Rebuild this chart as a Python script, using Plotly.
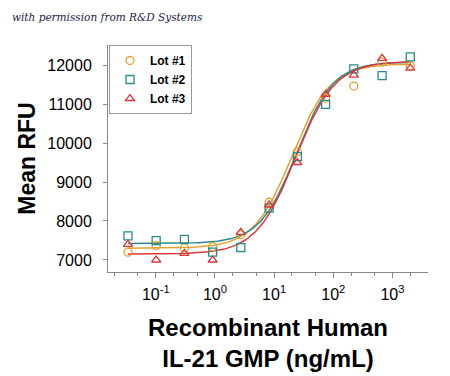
import numpy as np
import plotly.graph_objects as go

conc = [0.0339, 0.1016, 0.305, 0.914, 2.74, 8.23, 24.7, 74.1, 222, 667, 2000]
lot1 = [7200, 7370, 7310, 7340, 7650, 8480, 9780, 11150, 11460, 12080, 11980]
lot2 = [7620, 7495, 7530, 7200, 7320, 8330, 9650, 10990, 11900, 11730, 12210]
lot3 = [7400, 7000, 7170, 7000, 7710, 8410, 9500, 11250, 11740, 12170, 11920]
names = ["Lot #1", "Lot #2", "Lot #3"]
# 4PL fit parameters (bottom, top, EC50, hill)
fit_params = [(7300, 12030, 20, 1.35), (7420, 12080, 24, 1.4), (7150, 12100, 23, 1.3)]
colors = ["#E5A033", "#2B8A8A", "#D63A3A"]
symbols = ["circle-open", "square-open", "triangle-up-open"]
xtick_vals = [0.1, 1, 10, 100, 1000]
xtick_text = ["10<sup>-1</sup>", "10<sup>0</sup>", "10<sup>1</sup>", "10<sup>2</sup>", "10<sup>3</sup>"]
ytick_vals = [7000, 8000, 9000, 10000, 11000, 12000]
ytick_text = ["7000", "8000", "9000", "10000", "11000", "12000"]

fig = go.Figure()
xs = np.logspace(np.log10(conc[0]), np.log10(conc[-1]), 200)
for (b, t, ec, h), c in zip(fit_params, colors):
    ys = b + (t - b) / (1 + (ec / xs) ** h)
    fig.add_trace(go.Scatter(x=xs, y=ys, mode="lines", line=dict(color=c, width=1.5),
                             showlegend=False, hoverinfo="skip"))
for ys, n, c, s in zip([lot1, lot2, lot3], names, colors, symbols):
    fig.add_trace(go.Scatter(x=conc, y=ys, mode="markers", name=n,
                             marker=dict(symbol=s, size=8, color=c, line=dict(width=1.3, color=c))))

fig.update_layout(
    width=450, height=376,
    margin=dict(l=108, r=22, t=45, b=104),
    paper_bgcolor="white", plot_bgcolor="white",
    font=dict(family="Liberation Sans, Arial, sans-serif", color="black"),
    legend=dict(x=0.003, y=1.0, xanchor="left", yanchor="top",
                bordercolor="#999999", borderwidth=1, bgcolor="white",
                font=dict(size=12, color="black", family="Liberation Sans, Arial, sans-serif", weight="bold"),
                tracegroupgap=0, itemwidth=30),
    showlegend=True,
)
fig.update_xaxes(type="log", range=[-1.807, 3.6], tickvals=xtick_vals, ticktext=xtick_text,
                 automargin=False,
                 showgrid=False, zeroline=False, showline=True, linecolor="#888888", linewidth=1,
                 ticks="outside", ticklen=5, tickcolor="#888888", tickfont=dict(size=16),
                 ticklabelstandoff=3,
                 minor=dict(ticks="outside", ticklen=3, tickcolor="#888888", showgrid=False),
                 title=dict(text="<b>Recombinant Human<br>IL-21 GMP (ng/mL)</b>", font=dict(size=24), standoff=16))
fig.update_yaxes(range=[6692, 12513], tickvals=ytick_vals, ticktext=ytick_text,
                 automargin=False,
                 showgrid=False, zeroline=False, showline=True, linecolor="#888888", linewidth=1,
                 ticks="outside", ticklen=4, tickcolor="#888888", tickfont=dict(size=16),
                 ticklabelstandoff=8,
                 title=dict(text="<b>Mean RFU</b>", font=dict(size=23), standoff=5))
fig.add_annotation(xref="paper", yref="paper", x=-98/320, y=1 + 28/227, xanchor="left", yanchor="middle",
                   text="<i>with permission from R&amp;D Systems</i>", showarrow=False,
                   font=dict(size=10.5, family="DejaVu Serif, serif", color="#222244"))
fig.write_html("out.html", config={"displayModeBar": False},
               post_script="document.body.style.margin='0';document.body.style.overflow='hidden';")
